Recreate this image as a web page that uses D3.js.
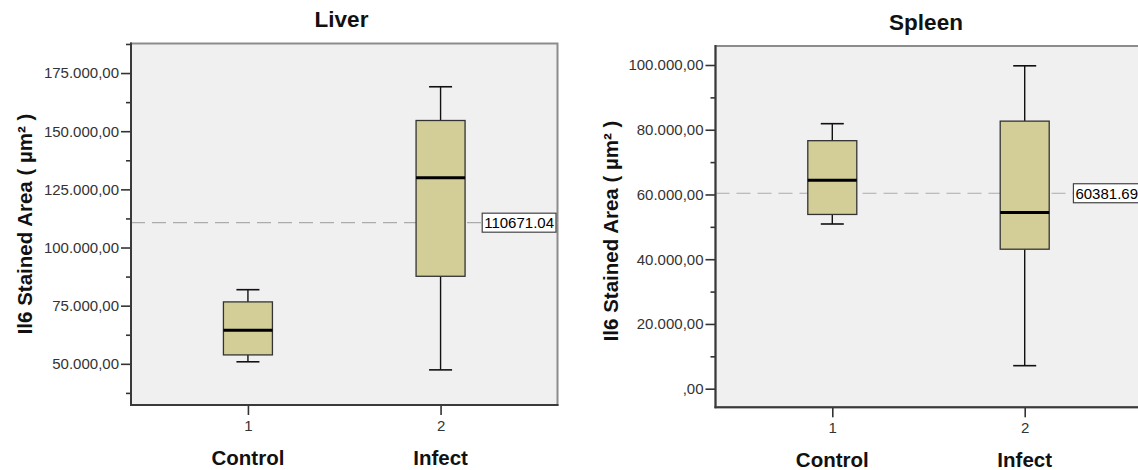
<!DOCTYPE html>
<html>
<head>
<meta charset="utf-8">
<script src="https://cdn.jsdelivr.net/npm/d3@7"></script>
<style>
  html, body { margin: 0; padding: 0; background: #fff; }
  svg { display: block; }
  text { font-family: "Liberation Sans", Arial, sans-serif; }
</style>
</head>
<body>
<svg id="chart" width="1138" height="470"></svg>
<script>
// ---------------- DATA ----------------
const categories = ["Control", "Infect"];
const categoryCodes = ["1", "2"];

const liverMin    = [50880, 47400];
const liverQ1     = [53830, 87630];
const liverMedian = [64380, 130000];
const liverQ3     = [76620, 154600];
const liverMax    = [81870, 169100];
const liverRef    = 110671.04;
const liverTicks      = [50000, 75000, 100000, 125000, 150000, 175000];
const liverMinorTicks = [37500, 62500, 87500, 112500, 137500, 162500, 187500];

const spleenMin    = [50880, 7110];
const spleenQ1     = [53830, 43090];
const spleenMedian = [64380, 54400];
const spleenQ3     = [76620, 82660];
const spleenMax    = [81870, 99750];
const spleenRef    = 60381.69;
const spleenTicks      = [0, 20000, 40000, 60000, 80000, 100000];
const spleenMinorTicks = [10000, 30000, 50000, 70000, 90000];

const yLabel = "Il6 Stained Area ( µm² )";

// ---------------- LAYOUT ----------------
const panels = [
  { title: "Liver", min: liverMin, q1: liverQ1, med: liverMedian, q3: liverQ3, max: liverMax,
    ref: liverRef, refText: "110671.04", ticks: liverTicks, minor: liverMinorTicks,
    domain: [32300, 187700],
    left: 131, top: 43.5, right: 557.5, bottom: 405,
    titleX: 341.5, titleY: 27, ylabX: 31.7, ylabY: 224 },
  { title: "Spleen", min: spleenMin, q1: spleenQ1, med: spleenMedian, q3: spleenQ3, max: spleenMax,
    ref: spleenRef, refText: "60381.69", ticks: spleenTicks, minor: spleenMinorTicks,
    domain: [-5750, 105870],
    left: 715.5, top: 46, right: 1141.5, bottom: 407.3,
    titleX: 926, titleY: 29.5, ylabX: 618, ylabY: 231 }
];

const fillColor = "rgb(211,206,151)";
const fmtBase = d3.format(",.2f");
function euro(v) {
  if (v === 0) return ",00";
  return fmtBase(v).replace(/,/g, "X").replace(".", ",").replace(/X/g, ".");
}

const svg = d3.select("#chart");

panels.forEach(p => {
  const g = svg.append("g");
  const y = d3.scaleLinear().domain(p.domain).range([p.bottom, p.top]);
  const x = d3.scalePoint().domain(categoryCodes).range([p.left, p.right]).padding(0.607);

  // plot background + frame
  g.append("rect")
    .attr("x", p.left).attr("y", p.top)
    .attr("width", p.right - p.left).attr("height", p.bottom - p.top)
    .attr("fill", "#f0f0f0").attr("stroke", "#8c8c8c").attr("stroke-width", 2);

  // reference line
  g.append("line")
    .attr("x1", p.left).attr("x2", p.right)
    .attr("y1", y(p.ref)).attr("y2", y(p.ref))
    .attr("stroke", "#ababab").attr("stroke-width", 1.2)
    .attr("stroke-dasharray", "14,7");

  // boxes
  const bw = 49, cw = 23;
  categoryCodes.forEach((c, i) => {
    const cx = x(c);
    g.append("line").attr("x1", cx).attr("x2", cx)
      .attr("y1", y(p.q3[i])).attr("y2", y(p.max[i]))
      .attr("stroke", "#111").attr("stroke-width", 1.4);
    g.append("line").attr("x1", cx).attr("x2", cx)
      .attr("y1", y(p.q1[i])).attr("y2", y(p.min[i]))
      .attr("stroke", "#111").attr("stroke-width", 1.4);
    g.append("line").attr("x1", cx - cw / 2).attr("x2", cx + cw / 2)
      .attr("y1", y(p.max[i])).attr("y2", y(p.max[i]))
      .attr("stroke", "#111").attr("stroke-width", 1.6);
    g.append("line").attr("x1", cx - cw / 2).attr("x2", cx + cw / 2)
      .attr("y1", y(p.min[i])).attr("y2", y(p.min[i]))
      .attr("stroke", "#111").attr("stroke-width", 1.6);
    g.append("rect")
      .attr("x", cx - bw / 2).attr("y", y(p.q3[i]))
      .attr("width", bw).attr("height", y(p.q1[i]) - y(p.q3[i]))
      .attr("fill", fillColor).attr("stroke", "#333").attr("stroke-width", 1.3);
    g.append("line").attr("x1", cx - bw / 2).attr("x2", cx + bw / 2)
      .attr("y1", y(p.med[i])).attr("y2", y(p.med[i]))
      .attr("stroke", "#000").attr("stroke-width", 3);
  });

  // ref label
  const lab = g.append("g");
  const t = lab.append("text")
    .attr("y", y(p.ref)).attr("dy", "0.36em")
    .attr("font-size", 15).attr("fill", "#000")
    .text(p.refText);
  const tw = t.node().getComputedTextLength();
  const bx = p.right - 1.5 - (tw + 4);
  lab.insert("rect", "text")
    .attr("x", bx).attr("y", y(p.ref) - 9.5)
    .attr("width", tw + 4).attr("height", 19)
    .attr("fill", "#fff").attr("stroke", "#444").attr("stroke-width", 1.2);
  t.attr("x", bx + 2);

  // y axis (major)
  const ya = g.append("g").attr("transform", `translate(${p.left},0)`)
    .call(d3.axisLeft(y).tickValues(p.ticks).tickSize(10).tickPadding(2).tickFormat(euro));
  ya.select(".domain").remove();
  ya.selectAll(".tick line").attr("stroke", "#333").attr("stroke-width", 1.6);
  ya.selectAll(".tick text").attr("font-size", 15).attr("fill", "#333")
    .attr("font-family", "Liberation Sans, Arial, sans-serif");
  // y axis (minor)
  const ym = g.append("g").attr("transform", `translate(${p.left},0)`)
    .call(d3.axisLeft(y).tickValues(p.minor).tickSize(5).tickFormat(""));
  ym.select(".domain").remove();
  ym.selectAll(".tick line").attr("stroke", "#333").attr("stroke-width", 1.6);

  // x axis
  const xa = g.append("g").attr("transform", `translate(0,${p.bottom})`)
    .call(d3.axisBottom(x).tickSize(10).tickPadding(5));
  xa.select(".domain").remove();
  xa.selectAll(".tick line").attr("stroke", "#333").attr("stroke-width", 1.6);
  xa.selectAll(".tick text").attr("font-size", 15).attr("fill", "#333")
    .attr("font-family", "Liberation Sans, Arial, sans-serif");

  // category names
  categoryCodes.forEach((c, i) => {
    g.append("text")
      .attr("x", x(c)).attr("y", p.bottom + 60)
      .attr("text-anchor", "middle").attr("font-size", 20.5).attr("font-weight", "bold")
      .attr("fill", "#111")
      .text(categories[i]);
  });

  // left and bottom axis lines (dark)
  g.append("line").attr("x1", p.left).attr("x2", p.left)
    .attr("y1", p.top - 1).attr("y2", p.bottom + 1)
    .attr("stroke", "#3a3a3a").attr("stroke-width", 2);
  g.append("line").attr("x1", p.left - 1).attr("x2", p.right + 1)
    .attr("y1", p.bottom).attr("y2", p.bottom)
    .attr("stroke", "#3a3a3a").attr("stroke-width", 2);

  // title
  g.append("text")
    .attr("x", p.titleX).attr("y", p.titleY)
    .attr("text-anchor", "middle").attr("font-size", 22.5).attr("font-weight", "bold")
    .attr("fill", "#111")
    .text(p.title);

  // y label
  g.append("text")
    .attr("transform", `translate(${p.ylabX},${p.ylabY}) rotate(-90)`)
    .attr("text-anchor", "middle").attr("font-size", 20.5).attr("font-weight", "bold")
    .attr("fill", "#111")
    .text(yLabel);
});
</script>
</body>
</html>
